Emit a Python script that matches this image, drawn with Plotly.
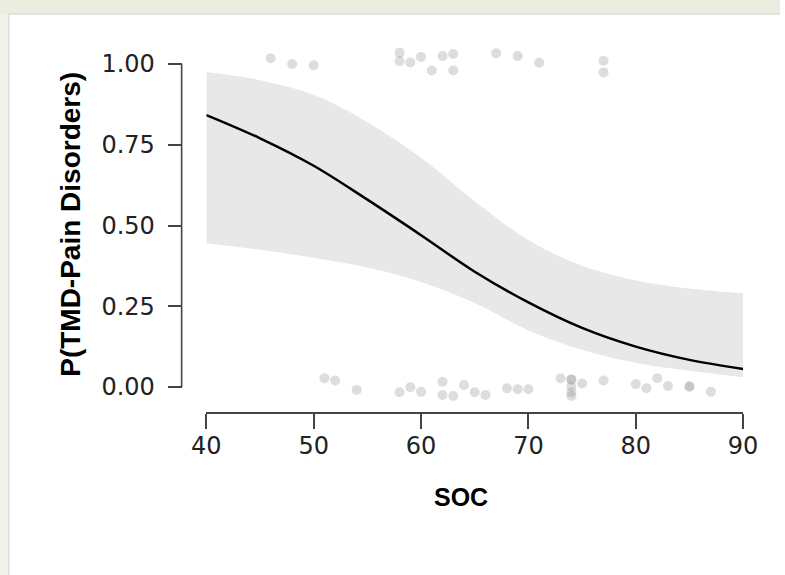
import plotly.graph_objects as go

# Fitted curve and confidence band
soc_grid = [40, 45, 50, 55, 60, 65, 70, 75, 80, 85, 90]
p_fit = [0.842, 0.77, 0.685, 0.58, 0.47, 0.357, 0.262, 0.183, 0.125, 0.084, 0.056]
p_upper = [0.975, 0.95, 0.905, 0.82, 0.71, 0.575, 0.455, 0.375, 0.33, 0.305, 0.29]
p_lower = [0.445, 0.425, 0.40, 0.37, 0.325, 0.26, 0.175, 0.115, 0.075, 0.05, 0.03]

# Observed (jittered) outcomes
obs_soc_1 = [46, 48, 50, 58, 58, 59, 60, 62, 63, 61, 63, 67, 69, 71, 77, 77]
obs_p_1 = [1.018, 1.0, 0.996, 1.035, 1.009, 1.005, 1.022, 1.025, 1.031, 0.98, 0.98,
           1.033, 1.025, 1.004, 1.01, 0.974]
obs_soc_0 = [51, 52, 54, 58, 59, 60, 62, 62, 63, 64, 65, 66, 68, 69, 70, 73,
             74, 74, 74, 74, 74, 75, 77, 80, 81, 82, 83, 85, 85, 87]
obs_p_0 = [0.027, 0.02, -0.009, -0.016, -0.001, -0.015, 0.016, -0.025, -0.028, 0.006,
           -0.016, -0.025, -0.004, -0.007, -0.007, 0.027, 0.024, 0.022, 0.001, -0.016,
           -0.028, 0.011, 0.02, 0.009, -0.004, 0.027, 0.003, 0.003, 0.0, -0.015]

y_ticks = [0, 0.25, 0.5, 0.75, 1.0]
y_ticktext = ["0.00", "0.25", "0.50", "0.75", "1.00"]
x_ticks = [40, 50, 60, 70, 80, 90]

W_FIG, H_FIG = 780, 575
L, R, T = 150, 20, 30
B = H_FIG - 412
PW = W_FIG - L - R
PH = H_FIG - T - B


def px_x(px):
    return (px - L) / PW


def px_y(py):
    return (H_FIG - B - py) / PH


fig = go.Figure()

fig.add_trace(go.Scatter(x=soc_grid, y=p_lower, mode="lines", line=dict(width=0, shape="spline"),
                         hoverinfo="skip", showlegend=False))
fig.add_trace(go.Scatter(x=soc_grid, y=p_upper, mode="lines", line=dict(width=0, shape="spline"),
                         fill="tonexty", fillcolor="#e8e8e8", hoverinfo="skip", showlegend=False))
fig.add_trace(go.Scatter(x=obs_soc_1 + obs_soc_0, y=obs_p_1 + obs_p_0, mode="markers",
                         marker=dict(size=10, color="rgba(150,150,150,0.32)", line=dict(width=0)),
                         showlegend=False, cliponaxis=False))
fig.add_trace(go.Scatter(x=soc_grid, y=p_fit, mode="lines",
                         line=dict(color="black", width=2.5, shape="spline"), showlegend=False))

shapes = [
    # green-ish background strips (top and left) outside the white panel
    dict(type="rect", xref="paper", yref="paper", x0=px_x(-20), x1=px_x(820), y0=px_y(14), y1=px_y(-20),
         fillcolor="#e9eedf", line=dict(width=0), layer="below"),
    dict(type="rect", xref="paper", yref="paper", x0=px_x(-20), x1=px_x(7), y0=px_y(600), y1=px_y(14),
         fillcolor="#eef2e8", line=dict(width=0), layer="below"),
    # panel border lines
    dict(type="line", xref="paper", yref="paper", x0=px_x(7), x1=px_x(820), y0=px_y(14), y1=px_y(14),
         line=dict(color="#dcdcdc", width=1.5), layer="below"),
    dict(type="line", xref="paper", yref="paper", x0=px_x(7), x1=px_x(7), y0=px_y(14), y1=px_y(600),
         line=dict(color="#dcdcdc", width=1.5), layer="below"),
    # y axis line (range frame 0..1)
    dict(type="line", xref="paper", yref="y", x0=px_x(182), x1=px_x(182), y0=0, y1=1,
         line=dict(color="#444444", width=1.6)),
]

annotations = [
    dict(text="<b>P(TMD-Pain Disorders)</b>", xref="paper", yref="y", x=px_x(70), y=0.505,
         textangle=-90, showarrow=False, font=dict(family="Liberation Sans, Arial", size=28, color="black"),
         xanchor="center", yanchor="middle"),
    dict(text="<b>SOC</b>", xref="paper", yref="paper", x=px_x(465), y=px_y(497),
         showarrow=False, font=dict(family="Liberation Sans, Arial", size=25, color="black"),
         xanchor="center", yanchor="middle"),
]

fig.update_layout(
    width=W_FIG, height=H_FIG,
    margin=dict(l=L, r=R, t=T, b=B),
    paper_bgcolor="white",
    plot_bgcolor="rgba(0,0,0,0)",
    shapes=shapes,
    annotations=annotations,
    xaxis=dict(range=[40, 90], domain=[px_x(207), px_x(750)], tickvals=x_ticks,
               ticks="outside", ticklen=15, tickwidth=1.6, tickcolor="#444444",
               ticklabelstandoff=-4,
               showline=True, linecolor="#444444", linewidth=1.6,
               showgrid=False, zeroline=False,
               tickfont=dict(family="DejaVu Sans", size=24, color="#222222")),
    yaxis=dict(range=[(387 - 412) / 323, (387 - 30) / 323], anchor="free", position=px_x(182),
               tickvals=y_ticks, ticktext=y_ticktext,
               ticks="outside", ticklen=14, tickwidth=1.6, tickcolor="#444444",
               ticklabelstandoff=8,
               showline=False, showgrid=False, zeroline=False,
               tickfont=dict(family="DejaVu Sans", size=24, color="#222222")),
)

fig.write_html("out.html")
